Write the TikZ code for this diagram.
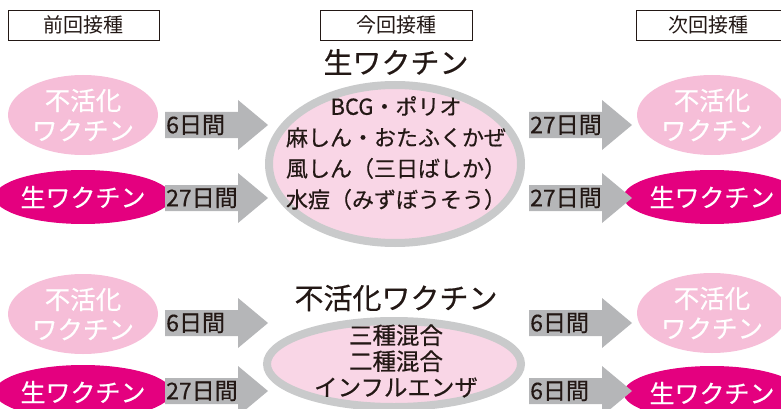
\documentclass[tikz,border=0pt]{standalone}
\usepackage{fontspec}
\setmainfont{Noto Sans CJK JP}[FakeBold=0.4]
\newfontfamily\hdrfont{Noto Sans CJK JP}
\usetikzlibrary{shapes.geometric}
\definecolor{lpink}{HTML}{F6BED8}
\definecolor{mag}{HTML}{E4007F}
\definecolor{ringgray}{HTML}{C9CACB}
\definecolor{bigfill}{HTML}{F9D6E6}
\definecolor{agray}{HTML}{B5B6B8}
\definecolor{ink}{HTML}{231815}
\tikzset{
  hdr/.style={draw=ink, line width=0.8pt, minimum height=30pt, inner sep=0pt, text=ink, font=\hdrfont\fontsize{20}{22}\selectfont},
  title/.style={text=ink, font=\fontsize{29}{32}\selectfont, inner sep=0pt},
  inact/.style={ellipse, fill=lpink, text=white, minimum width=150pt, minimum height=80pt, inner sep=0pt, align=center, font=\fontsize{25.5}{30}\selectfont},
  live/.style={ellipse, fill=mag, text=white, minimum width=150pt, minimum height=54pt, inner sep=0pt, font=\fontsize{25}{30}\selectfont},
  big/.style={ellipse, draw=ringgray, line width=8pt, fill=bigfill, inner sep=0pt, text=ink, align=center},
  lbl/.style={anchor=west, text=ink, inner sep=0pt, font=\fontsize{23}{26}\selectfont},
}
\newcommand\blkarrow[2]{%
  \fill[agray] (#1,#2-13) -- (#1+73,#2-13) -- (#1+73,#2-25) -- (#1+103,#2) -- (#1+73,#2+25) -- (#1+73,#2+13) -- (#1,#2+13) -- cycle;}
\begin{document}
\begin{tikzpicture}[x=1pt,y=-1pt]
\useasboundingbox (0,0) rectangle (781,409);
% headers
\node[hdr, minimum width=151pt] (h1) at (83.5,25) {前回接種};
\node[hdr, minimum width=152pt] (h2) at (396,25) {今回接種};
\node[hdr, minimum width=145pt] (h3) at (708.5,25) {次回接種};
% titles
\node[title] (t1) at (396,62) {生ワクチン};
\node[title] (t2) at (396,298) {不活化ワクチン};
% big ellipses
\node[big, minimum width=252pt, minimum height=158pt] (b1) at (395,164) {};
\node[big, minimum width=254pt, minimum height=86pt] (b2) at (394,364) {};
\node[text=ink, align=center, font=\fontsize{22}{31}\selectfont, inner sep=0pt] (b1t) at (396,153)
  {BCG・ポリオ\\麻しん・おたふくかぜ\\風しん（三日ばしか）\\水痘（みずぼうそう）};
\node[text=ink, align=center, font=\fontsize{23.5}{26}\selectfont, inner sep=0pt] (b2t) at (396,361)
  {三種混合\\二種混合\\インフルエンザ};
% left ellipses
\node[inact] (l1) at (83,115) {不活化\\ワクチン};
\node[live] (l2) at (83,197) {生ワクチン};
\node[inact] (l3) at (83,314) {不活化\\ワクチン};
\node[live] (l4) at (83,392) {生ワクチン};
% right ellipses
\node[inact] (r1) at (712,115) {不活化\\ワクチン};
\node[live] (r2) at (712,197) {生ワクチン};
\node[inact] (r3) at (712,313) {不活化\\ワクチン};
\node[live] (r4) at (712,393) {生ワクチン};
% arrows
\blkarrow{165}{125}
\blkarrow{165}{198}
\blkarrow{165}{323}
\blkarrow{165}{391}
\blkarrow{529}{125}
\blkarrow{529}{198}
\blkarrow{529}{323}
\blkarrow{529}{391}
\node[lbl] (a1) at (166,125) {6日間};
\node[lbl] (a2) at (166,198) {27日間};
\node[lbl] (a3) at (166,323) {6日間};
\node[lbl] (a4) at (166,391) {27日間};
\node[lbl] (a5) at (530,125) {27日間};
\node[lbl] (a6) at (530,198) {27日間};
\node[lbl] (a7) at (530,323) {6日間};
\node[lbl] (a8) at (530,391) {6日間};
\end{tikzpicture}
\end{document}
